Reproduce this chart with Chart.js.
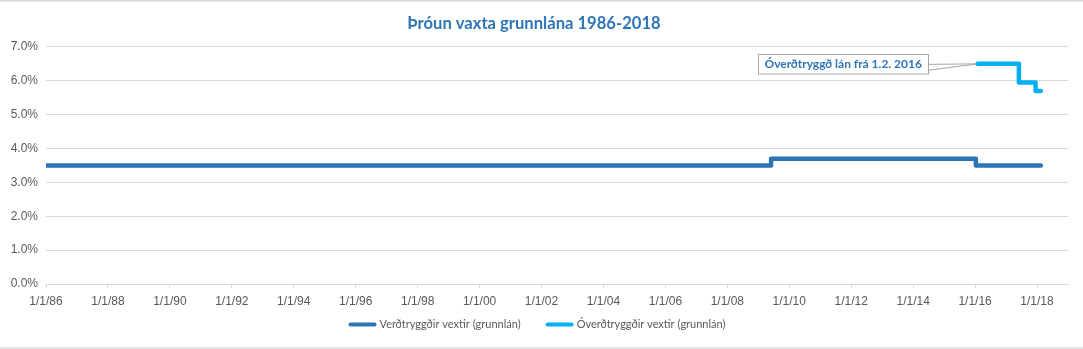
<!DOCTYPE html>
<html>
<head>
<meta charset="utf-8">
<script src="https://cdn.jsdelivr.net/npm/chart.js@4"></script>
<style>
  html, body { margin: 0; padding: 0; background: #ffffff; }
  #wrap { width: 1083px; height: 349px; position: relative; }
</style>
</head>
<body>
<div id="wrap"><canvas id="c" width="1083" height="349"></canvas></div>
<script>
// ---- data ----
const chartTitle = 'Þróun vaxta grunnlána 1986-2018';
const seriesNames = ['Verðtryggðir vextir (grunnlán)', 'Óverðtryggðir vextir (grunnlán)'];
const annotationText = 'Óverðtryggð lán frá 1.2. 2016';

const verdDates  = ['1986-01-01', '2009-06-01', '2016-01-10', '2018-02-15'];
const verdValues = [3.5, 3.7, 3.5, 3.5];

const overdDates  = ['2016-02-01', '2017-06-01', '2017-12-15', '2018-02-15'];
const overdValues = [6.5, 5.95, 5.7, 5.7];

const xTickYears  = [1986, 1988, 1990, 1992, 1994, 1996, 1998, 2000, 2002, 2004, 2006, 2008, 2010, 2012, 2014, 2016, 2018];
const yTickValues = [0, 1, 2, 3, 4, 5, 6, 7];

// ---- helpers ----
function toYear(s) {
  const [y, m, d] = s.split('-').map(Number);
  const start = Date.UTC(y, 0, 1), end = Date.UTC(y + 1, 0, 1);
  return y + (Date.UTC(y, m - 1, d) - start) / (end - start);
}
function pts(dates, vals) { return dates.map((d, i) => ({ x: toYear(d), y: vals[i] })); }

const DARK = '#2E75B6';
const LIGHT = '#00B0F0';
const GRID = '#d9d9d9';
const LABEL = '#595959';

const annotationPlugin = {
  id: 'callout',
  beforeDatasetsDraw(chart) {
    const { ctx, scales: { x, y } } = chart;
    const px = x.getPixelForValue(toYear(overdDates[0]));
    const py = y.getPixelForValue(overdValues[0]);
    const right = px - 50, w = 170, h = 19.5;
    const left = right - w, top = py - 10;
    ctx.save();
    ctx.strokeStyle = '#a6a6a6';
    ctx.lineWidth = 1;
    ctx.fillStyle = '#ffffff';
    ctx.beginPath();
    ctx.moveTo(right, py + 0.5);
    ctx.lineTo(px, py);
    ctx.lineTo(right, py + 6.5);
    ctx.closePath();
    ctx.fill();
    ctx.stroke();
    ctx.fillStyle = '#ffffff';
    ctx.fillRect(Math.round(left) + 0.5, Math.round(top) + 0.5, w, h);
    ctx.strokeRect(Math.round(left) + 0.5, Math.round(top) + 0.5, w, h);
    ctx.fillStyle = DARK;
    ctx.font = 'bold 12px Lato';
    ctx.textAlign = 'center';
    ctx.textBaseline = 'middle';
    ctx.fillText(annotationText, left + w / 2 + 0.5, top + h / 2 + 1);
    ctx.restore();
  }
};

const legendPlugin = {
  id: 'customLegend',
  afterDraw(chart) {
    const { ctx } = chart;
    const sets = chart.data.datasets;
    ctx.save();
    ctx.font = '11px Lato';
    const lineLen = 28, gapText = 3, gapItem = 25;
    const widths = sets.map(d => ctx.measureText(d.label).width);
    const total = widths.reduce((a, w) => a + lineLen + gapText + w, 0) + gapItem * (sets.length - 1);
    let x = 537 - total / 2;
    const yc = 324.5;
    sets.forEach((d, i) => {
      ctx.strokeStyle = d.borderColor;
      ctx.lineWidth = 4;
      ctx.lineCap = 'round';
      ctx.beginPath();
      ctx.moveTo(x + 2, yc);
      ctx.lineTo(x + lineLen - 2, yc);
      ctx.stroke();
      x += lineLen + gapText;
      ctx.fillStyle = LABEL;
      ctx.textAlign = 'left';
      ctx.textBaseline = 'middle';
      ctx.fillText(d.label, x, yc);
      x += widths[i] + gapItem;
    });
    ctx.restore();
  }
};

const borderPlugin = {
  id: 'frame',
  beforeDraw(chart) {
    const { ctx, width, height } = chart;
    ctx.save();
    ctx.fillStyle = '#ffffff';
    ctx.fillRect(0, 0, width, height);
    ctx.strokeStyle = GRID;
    ctx.lineWidth = 1.5;
    ctx.beginPath();
    ctx.moveTo(0, 0.75); ctx.lineTo(width, 0.75);
    ctx.moveTo(0, height - 1); ctx.lineTo(width, height - 1);
    ctx.stroke();
    ctx.restore();
  }
};

new Chart(document.getElementById('c'), {
  type: 'line',
  data: {
    datasets: [
      {
        label: seriesNames[0],
        data: pts(verdDates, verdValues),
        borderColor: DARK, backgroundColor: DARK,
        borderWidth: 4.5, stepped: 'before', pointRadius: 0,
        borderCapStyle: 'round', borderJoinStyle: 'round'
      },
      {
        label: seriesNames[1],
        data: pts(overdDates, overdValues),
        borderColor: LIGHT, backgroundColor: LIGHT,
        borderWidth: 4.5, stepped: 'before', pointRadius: 0,
        borderCapStyle: 'round', borderJoinStyle: 'round'
      }
    ]
  },
  options: {
    responsive: false,
    animation: false,
    layout: { padding: { left: 0, right: 15, top: 0, bottom: 41.6 } },
    plugins: {
      title: {
        display: true, text: chartTitle, color: DARK,
        font: { family: 'Lato', size: 16.6, weight: 'bold' },
        padding: { top: 14, bottom: 13 }
      },
      legend: { display: false },
      tooltip: { enabled: false }
    },
    scales: {
      x: {
        type: 'linear', min: 1986, max: 2019,
        afterBuildTicks(s) { s.ticks = xTickYears.map(v => ({ value: v })); },
        afterFit(s) { s.height = 23.4; },
        grid: { drawOnChartArea: false, drawTicks: true, tickLength: 4, color: GRID },
        border: { display: true, color: GRID, width: 1 },
        ticks: {
          autoSkip: false, maxRotation: 0, padding: 6, color: LABEL,
          font: { family: 'Liberation Sans', size: 12 },
          callback: v => '1/1/' + String(v).slice(2)
        }
      },
      y: {
        min: 0, max: 7,
        afterBuildTicks(s) { s.ticks = yTickValues.map(v => ({ value: v })); },
        afterFit(s) { s.width = 46; },
        grid: { drawTicks: false, color: GRID, lineWidth: 1 },
        border: { display: false },
        ticks: {
          padding: 8, color: LABEL,
          font: { family: 'Liberation Sans', size: 12 },
          callback: v => v.toFixed(1) + '%'
        }
      }
    }
  },
  plugins: [borderPlugin, annotationPlugin, legendPlugin]
});
</script>
</body>
</html>
